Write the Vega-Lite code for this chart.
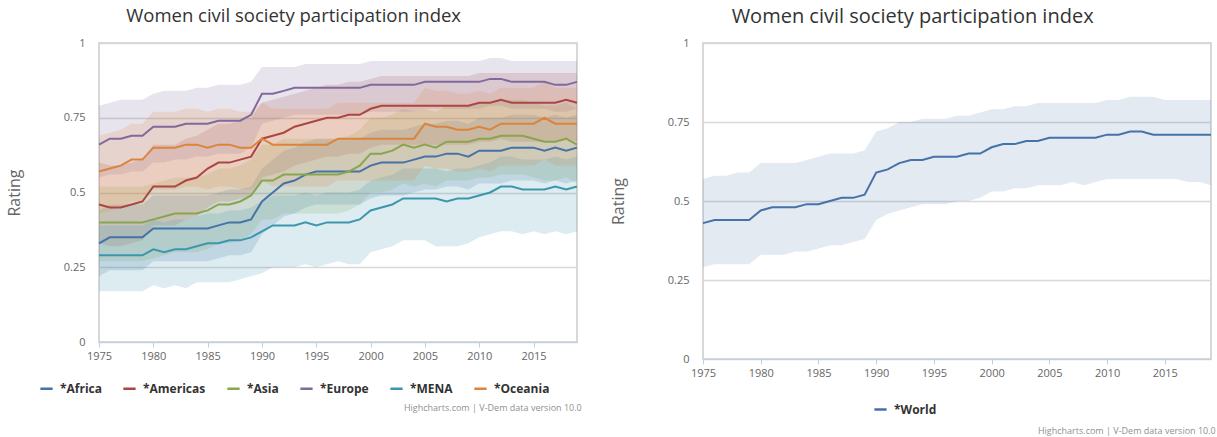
{
"$schema": "https://vega.github.io/schema/vega-lite/v6.json",
"background": "white",
"padding": 5,
"spacing": 27,
"config": {
  "font": "Open Sans",
  "view": {"stroke": "#cccccc", "strokeWidth": 1.5},
  "concat": {"spacing": 27},
  "legend": {"symbolType": "stroke", "symbolStrokeWidth": 2.5, "symbolSize": 150, "symbolOpacity": 1, "labelFont": "Open Sans", "labelFontSize": 12, "labelFontWeight": "bold", "labelColor": "#333333", "columnPadding": 16, "labelOffset": 6, "padding": 0}
},
"resolve": {"scale": {"color": "independent"}, "legend": {"color": "independent"}},
"datasets": {
"regions": [
{"region":"*Africa","year":1975,"value":0.33,"low":0.22,"high":0.44},
{"region":"*Africa","year":1976,"value":0.35,"low":0.24,"high":0.46},
{"region":"*Africa","year":1977,"value":0.35,"low":0.24,"high":0.46},
{"region":"*Africa","year":1978,"value":0.35,"low":0.24,"high":0.46},
{"region":"*Africa","year":1979,"value":0.35,"low":0.24,"high":0.46},
{"region":"*Africa","year":1980,"value":0.38,"low":0.27,"high":0.49},
{"region":"*Africa","year":1981,"value":0.38,"low":0.27,"high":0.49},
{"region":"*Africa","year":1982,"value":0.38,"low":0.27,"high":0.49},
{"region":"*Africa","year":1983,"value":0.38,"low":0.27,"high":0.49},
{"region":"*Africa","year":1984,"value":0.38,"low":0.27,"high":0.49},
{"region":"*Africa","year":1985,"value":0.38,"low":0.27,"high":0.49},
{"region":"*Africa","year":1986,"value":0.39,"low":0.28,"high":0.50},
{"region":"*Africa","year":1987,"value":0.40,"low":0.29,"high":0.51},
{"region":"*Africa","year":1988,"value":0.40,"low":0.29,"high":0.51},
{"region":"*Africa","year":1989,"value":0.41,"low":0.30,"high":0.52},
{"region":"*Africa","year":1990,"value":0.47,"low":0.36,"high":0.58},
{"region":"*Africa","year":1991,"value":0.50,"low":0.39,"high":0.61},
{"region":"*Africa","year":1992,"value":0.53,"low":0.42,"high":0.64},
{"region":"*Africa","year":1993,"value":0.54,"low":0.43,"high":0.65},
{"region":"*Africa","year":1994,"value":0.56,"low":0.45,"high":0.67},
{"region":"*Africa","year":1995,"value":0.57,"low":0.46,"high":0.68},
{"region":"*Africa","year":1996,"value":0.57,"low":0.46,"high":0.68},
{"region":"*Africa","year":1997,"value":0.57,"low":0.46,"high":0.68},
{"region":"*Africa","year":1998,"value":0.57,"low":0.46,"high":0.68},
{"region":"*Africa","year":1999,"value":0.57,"low":0.46,"high":0.68},
{"region":"*Africa","year":2000,"value":0.59,"low":0.48,"high":0.70},
{"region":"*Africa","year":2001,"value":0.60,"low":0.49,"high":0.71},
{"region":"*Africa","year":2002,"value":0.60,"low":0.49,"high":0.71},
{"region":"*Africa","year":2003,"value":0.60,"low":0.49,"high":0.71},
{"region":"*Africa","year":2004,"value":0.61,"low":0.50,"high":0.72},
{"region":"*Africa","year":2005,"value":0.62,"low":0.51,"high":0.73},
{"region":"*Africa","year":2006,"value":0.62,"low":0.51,"high":0.73},
{"region":"*Africa","year":2007,"value":0.63,"low":0.52,"high":0.74},
{"region":"*Africa","year":2008,"value":0.63,"low":0.52,"high":0.74},
{"region":"*Africa","year":2009,"value":0.62,"low":0.51,"high":0.73},
{"region":"*Africa","year":2010,"value":0.64,"low":0.53,"high":0.75},
{"region":"*Africa","year":2011,"value":0.64,"low":0.53,"high":0.75},
{"region":"*Africa","year":2012,"value":0.64,"low":0.53,"high":0.75},
{"region":"*Africa","year":2013,"value":0.65,"low":0.54,"high":0.76},
{"region":"*Africa","year":2014,"value":0.65,"low":0.54,"high":0.76},
{"region":"*Africa","year":2015,"value":0.65,"low":0.54,"high":0.76},
{"region":"*Africa","year":2016,"value":0.64,"low":0.53,"high":0.75},
{"region":"*Africa","year":2017,"value":0.65,"low":0.54,"high":0.76},
{"region":"*Africa","year":2018,"value":0.64,"low":0.53,"high":0.75},
{"region":"*Africa","year":2019,"value":0.65,"low":0.54,"high":0.76},
{"region":"*Americas","year":1975,"value":0.46,"low":0.33,"high":0.60},
{"region":"*Americas","year":1976,"value":0.45,"low":0.32,"high":0.59},
{"region":"*Americas","year":1977,"value":0.45,"low":0.32,"high":0.59},
{"region":"*Americas","year":1978,"value":0.46,"low":0.33,"high":0.60},
{"region":"*Americas","year":1979,"value":0.47,"low":0.34,"high":0.61},
{"region":"*Americas","year":1980,"value":0.52,"low":0.39,"high":0.66},
{"region":"*Americas","year":1981,"value":0.52,"low":0.39,"high":0.66},
{"region":"*Americas","year":1982,"value":0.52,"low":0.39,"high":0.66},
{"region":"*Americas","year":1983,"value":0.54,"low":0.41,"high":0.68},
{"region":"*Americas","year":1984,"value":0.55,"low":0.42,"high":0.69},
{"region":"*Americas","year":1985,"value":0.58,"low":0.45,"high":0.71},
{"region":"*Americas","year":1986,"value":0.60,"low":0.47,"high":0.73},
{"region":"*Americas","year":1987,"value":0.60,"low":0.47,"high":0.73},
{"region":"*Americas","year":1988,"value":0.61,"low":0.48,"high":0.74},
{"region":"*Americas","year":1989,"value":0.62,"low":0.49,"high":0.75},
{"region":"*Americas","year":1990,"value":0.68,"low":0.55,"high":0.80},
{"region":"*Americas","year":1991,"value":0.69,"low":0.56,"high":0.81},
{"region":"*Americas","year":1992,"value":0.70,"low":0.57,"high":0.82},
{"region":"*Americas","year":1993,"value":0.72,"low":0.59,"high":0.83},
{"region":"*Americas","year":1994,"value":0.73,"low":0.60,"high":0.84},
{"region":"*Americas","year":1995,"value":0.74,"low":0.61,"high":0.85},
{"region":"*Americas","year":1996,"value":0.75,"low":0.62,"high":0.86},
{"region":"*Americas","year":1997,"value":0.75,"low":0.62,"high":0.86},
{"region":"*Americas","year":1998,"value":0.76,"low":0.63,"high":0.87},
{"region":"*Americas","year":1999,"value":0.76,"low":0.63,"high":0.87},
{"region":"*Americas","year":2000,"value":0.78,"low":0.65,"high":0.88},
{"region":"*Americas","year":2001,"value":0.79,"low":0.66,"high":0.89},
{"region":"*Americas","year":2002,"value":0.79,"low":0.66,"high":0.89},
{"region":"*Americas","year":2003,"value":0.79,"low":0.66,"high":0.89},
{"region":"*Americas","year":2004,"value":0.79,"low":0.66,"high":0.89},
{"region":"*Americas","year":2005,"value":0.79,"low":0.66,"high":0.89},
{"region":"*Americas","year":2006,"value":0.79,"low":0.66,"high":0.89},
{"region":"*Americas","year":2007,"value":0.79,"low":0.66,"high":0.89},
{"region":"*Americas","year":2008,"value":0.79,"low":0.66,"high":0.89},
{"region":"*Americas","year":2009,"value":0.79,"low":0.66,"high":0.89},
{"region":"*Americas","year":2010,"value":0.80,"low":0.67,"high":0.90},
{"region":"*Americas","year":2011,"value":0.80,"low":0.67,"high":0.90},
{"region":"*Americas","year":2012,"value":0.81,"low":0.68,"high":0.90},
{"region":"*Americas","year":2013,"value":0.80,"low":0.67,"high":0.90},
{"region":"*Americas","year":2014,"value":0.80,"low":0.67,"high":0.90},
{"region":"*Americas","year":2015,"value":0.80,"low":0.67,"high":0.90},
{"region":"*Americas","year":2016,"value":0.80,"low":0.67,"high":0.90},
{"region":"*Americas","year":2017,"value":0.80,"low":0.67,"high":0.90},
{"region":"*Americas","year":2018,"value":0.81,"low":0.68,"high":0.90},
{"region":"*Americas","year":2019,"value":0.80,"low":0.67,"high":0.90},
{"region":"*Asia","year":1975,"value":0.40,"low":0.27,"high":0.52},
{"region":"*Asia","year":1976,"value":0.40,"low":0.27,"high":0.52},
{"region":"*Asia","year":1977,"value":0.40,"low":0.27,"high":0.52},
{"region":"*Asia","year":1978,"value":0.40,"low":0.27,"high":0.52},
{"region":"*Asia","year":1979,"value":0.40,"low":0.27,"high":0.52},
{"region":"*Asia","year":1980,"value":0.41,"low":0.28,"high":0.53},
{"region":"*Asia","year":1981,"value":0.42,"low":0.29,"high":0.54},
{"region":"*Asia","year":1982,"value":0.43,"low":0.30,"high":0.55},
{"region":"*Asia","year":1983,"value":0.43,"low":0.30,"high":0.55},
{"region":"*Asia","year":1984,"value":0.43,"low":0.30,"high":0.55},
{"region":"*Asia","year":1985,"value":0.44,"low":0.31,"high":0.56},
{"region":"*Asia","year":1986,"value":0.46,"low":0.33,"high":0.58},
{"region":"*Asia","year":1987,"value":0.46,"low":0.33,"high":0.58},
{"region":"*Asia","year":1988,"value":0.47,"low":0.34,"high":0.59},
{"region":"*Asia","year":1989,"value":0.49,"low":0.36,"high":0.61},
{"region":"*Asia","year":1990,"value":0.54,"low":0.41,"high":0.66},
{"region":"*Asia","year":1991,"value":0.54,"low":0.41,"high":0.66},
{"region":"*Asia","year":1992,"value":0.56,"low":0.43,"high":0.68},
{"region":"*Asia","year":1993,"value":0.56,"low":0.43,"high":0.68},
{"region":"*Asia","year":1994,"value":0.56,"low":0.43,"high":0.68},
{"region":"*Asia","year":1995,"value":0.56,"low":0.43,"high":0.68},
{"region":"*Asia","year":1996,"value":0.56,"low":0.43,"high":0.68},
{"region":"*Asia","year":1997,"value":0.56,"low":0.43,"high":0.68},
{"region":"*Asia","year":1998,"value":0.57,"low":0.44,"high":0.69},
{"region":"*Asia","year":1999,"value":0.59,"low":0.46,"high":0.71},
{"region":"*Asia","year":2000,"value":0.63,"low":0.50,"high":0.75},
{"region":"*Asia","year":2001,"value":0.63,"low":0.50,"high":0.75},
{"region":"*Asia","year":2002,"value":0.64,"low":0.51,"high":0.76},
{"region":"*Asia","year":2003,"value":0.66,"low":0.53,"high":0.78},
{"region":"*Asia","year":2004,"value":0.65,"low":0.52,"high":0.77},
{"region":"*Asia","year":2005,"value":0.66,"low":0.53,"high":0.78},
{"region":"*Asia","year":2006,"value":0.65,"low":0.52,"high":0.77},
{"region":"*Asia","year":2007,"value":0.67,"low":0.54,"high":0.79},
{"region":"*Asia","year":2008,"value":0.67,"low":0.54,"high":0.79},
{"region":"*Asia","year":2009,"value":0.67,"low":0.54,"high":0.79},
{"region":"*Asia","year":2010,"value":0.68,"low":0.55,"high":0.80},
{"region":"*Asia","year":2011,"value":0.68,"low":0.55,"high":0.80},
{"region":"*Asia","year":2012,"value":0.69,"low":0.56,"high":0.81},
{"region":"*Asia","year":2013,"value":0.69,"low":0.56,"high":0.81},
{"region":"*Asia","year":2014,"value":0.69,"low":0.56,"high":0.81},
{"region":"*Asia","year":2015,"value":0.68,"low":0.55,"high":0.80},
{"region":"*Asia","year":2016,"value":0.67,"low":0.54,"high":0.79},
{"region":"*Asia","year":2017,"value":0.67,"low":0.54,"high":0.79},
{"region":"*Asia","year":2018,"value":0.68,"low":0.55,"high":0.80},
{"region":"*Asia","year":2019,"value":0.66,"low":0.53,"high":0.78},
{"region":"*Europe","year":1975,"value":0.66,"low":0.55,"high":0.79},
{"region":"*Europe","year":1976,"value":0.68,"low":0.56,"high":0.80},
{"region":"*Europe","year":1977,"value":0.68,"low":0.56,"high":0.81},
{"region":"*Europe","year":1978,"value":0.69,"low":0.57,"high":0.81},
{"region":"*Europe","year":1979,"value":0.69,"low":0.57,"high":0.81},
{"region":"*Europe","year":1980,"value":0.72,"low":0.60,"high":0.83},
{"region":"*Europe","year":1981,"value":0.72,"low":0.60,"high":0.84},
{"region":"*Europe","year":1982,"value":0.72,"low":0.61,"high":0.84},
{"region":"*Europe","year":1983,"value":0.73,"low":0.61,"high":0.84},
{"region":"*Europe","year":1984,"value":0.73,"low":0.62,"high":0.85},
{"region":"*Europe","year":1985,"value":0.73,"low":0.62,"high":0.85},
{"region":"*Europe","year":1986,"value":0.74,"low":0.63,"high":0.86},
{"region":"*Europe","year":1987,"value":0.74,"low":0.63,"high":0.86},
{"region":"*Europe","year":1988,"value":0.74,"low":0.63,"high":0.86},
{"region":"*Europe","year":1989,"value":0.76,"low":0.65,"high":0.87},
{"region":"*Europe","year":1990,"value":0.83,"low":0.73,"high":0.92},
{"region":"*Europe","year":1991,"value":0.83,"low":0.74,"high":0.92},
{"region":"*Europe","year":1992,"value":0.84,"low":0.75,"high":0.92},
{"region":"*Europe","year":1993,"value":0.85,"low":0.76,"high":0.92},
{"region":"*Europe","year":1994,"value":0.85,"low":0.76,"high":0.93},
{"region":"*Europe","year":1995,"value":0.85,"low":0.76,"high":0.93},
{"region":"*Europe","year":1996,"value":0.85,"low":0.76,"high":0.93},
{"region":"*Europe","year":1997,"value":0.85,"low":0.76,"high":0.93},
{"region":"*Europe","year":1998,"value":0.85,"low":0.76,"high":0.93},
{"region":"*Europe","year":1999,"value":0.85,"low":0.76,"high":0.93},
{"region":"*Europe","year":2000,"value":0.86,"low":0.77,"high":0.94},
{"region":"*Europe","year":2001,"value":0.86,"low":0.77,"high":0.94},
{"region":"*Europe","year":2002,"value":0.86,"low":0.77,"high":0.94},
{"region":"*Europe","year":2003,"value":0.86,"low":0.77,"high":0.94},
{"region":"*Europe","year":2004,"value":0.86,"low":0.77,"high":0.94},
{"region":"*Europe","year":2005,"value":0.87,"low":0.78,"high":0.94},
{"region":"*Europe","year":2006,"value":0.87,"low":0.78,"high":0.94},
{"region":"*Europe","year":2007,"value":0.87,"low":0.78,"high":0.94},
{"region":"*Europe","year":2008,"value":0.87,"low":0.78,"high":0.94},
{"region":"*Europe","year":2009,"value":0.87,"low":0.78,"high":0.94},
{"region":"*Europe","year":2010,"value":0.87,"low":0.78,"high":0.94},
{"region":"*Europe","year":2011,"value":0.88,"low":0.79,"high":0.95},
{"region":"*Europe","year":2012,"value":0.88,"low":0.79,"high":0.95},
{"region":"*Europe","year":2013,"value":0.87,"low":0.78,"high":0.94},
{"region":"*Europe","year":2014,"value":0.87,"low":0.78,"high":0.94},
{"region":"*Europe","year":2015,"value":0.87,"low":0.78,"high":0.94},
{"region":"*Europe","year":2016,"value":0.87,"low":0.78,"high":0.94},
{"region":"*Europe","year":2017,"value":0.86,"low":0.77,"high":0.94},
{"region":"*Europe","year":2018,"value":0.86,"low":0.77,"high":0.94},
{"region":"*Europe","year":2019,"value":0.87,"low":0.78,"high":0.94},
{"region":"*MENA","year":1975,"value":0.29,"low":0.17,"high":0.39},
{"region":"*MENA","year":1976,"value":0.29,"low":0.17,"high":0.39},
{"region":"*MENA","year":1977,"value":0.29,"low":0.17,"high":0.39},
{"region":"*MENA","year":1978,"value":0.29,"low":0.17,"high":0.39},
{"region":"*MENA","year":1979,"value":0.29,"low":0.17,"high":0.39},
{"region":"*MENA","year":1980,"value":0.31,"low":0.19,"high":0.41},
{"region":"*MENA","year":1981,"value":0.30,"low":0.18,"high":0.40},
{"region":"*MENA","year":1982,"value":0.31,"low":0.19,"high":0.41},
{"region":"*MENA","year":1983,"value":0.31,"low":0.18,"high":0.41},
{"region":"*MENA","year":1984,"value":0.32,"low":0.20,"high":0.42},
{"region":"*MENA","year":1985,"value":0.33,"low":0.20,"high":0.43},
{"region":"*MENA","year":1986,"value":0.33,"low":0.20,"high":0.43},
{"region":"*MENA","year":1987,"value":0.34,"low":0.20,"high":0.44},
{"region":"*MENA","year":1988,"value":0.34,"low":0.21,"high":0.44},
{"region":"*MENA","year":1989,"value":0.35,"low":0.22,"high":0.45},
{"region":"*MENA","year":1990,"value":0.37,"low":0.23,"high":0.47},
{"region":"*MENA","year":1991,"value":0.39,"low":0.25,"high":0.49},
{"region":"*MENA","year":1992,"value":0.39,"low":0.25,"high":0.49},
{"region":"*MENA","year":1993,"value":0.39,"low":0.25,"high":0.49},
{"region":"*MENA","year":1994,"value":0.40,"low":0.26,"high":0.50},
{"region":"*MENA","year":1995,"value":0.39,"low":0.25,"high":0.49},
{"region":"*MENA","year":1996,"value":0.40,"low":0.26,"high":0.50},
{"region":"*MENA","year":1997,"value":0.40,"low":0.27,"high":0.50},
{"region":"*MENA","year":1998,"value":0.40,"low":0.26,"high":0.50},
{"region":"*MENA","year":1999,"value":0.41,"low":0.26,"high":0.51},
{"region":"*MENA","year":2000,"value":0.44,"low":0.30,"high":0.54},
{"region":"*MENA","year":2001,"value":0.45,"low":0.31,"high":0.55},
{"region":"*MENA","year":2002,"value":0.46,"low":0.32,"high":0.56},
{"region":"*MENA","year":2003,"value":0.48,"low":0.34,"high":0.58},
{"region":"*MENA","year":2004,"value":0.48,"low":0.34,"high":0.58},
{"region":"*MENA","year":2005,"value":0.48,"low":0.34,"high":0.58},
{"region":"*MENA","year":2006,"value":0.48,"low":0.32,"high":0.58},
{"region":"*MENA","year":2007,"value":0.47,"low":0.32,"high":0.57},
{"region":"*MENA","year":2008,"value":0.48,"low":0.32,"high":0.58},
{"region":"*MENA","year":2009,"value":0.48,"low":0.33,"high":0.58},
{"region":"*MENA","year":2010,"value":0.49,"low":0.35,"high":0.59},
{"region":"*MENA","year":2011,"value":0.50,"low":0.36,"high":0.60},
{"region":"*MENA","year":2012,"value":0.52,"low":0.37,"high":0.62},
{"region":"*MENA","year":2013,"value":0.52,"low":0.37,"high":0.62},
{"region":"*MENA","year":2014,"value":0.51,"low":0.36,"high":0.61},
{"region":"*MENA","year":2015,"value":0.51,"low":0.37,"high":0.61},
{"region":"*MENA","year":2016,"value":0.51,"low":0.36,"high":0.61},
{"region":"*MENA","year":2017,"value":0.52,"low":0.37,"high":0.62},
{"region":"*MENA","year":2018,"value":0.51,"low":0.36,"high":0.61},
{"region":"*MENA","year":2019,"value":0.52,"low":0.37,"high":0.62},
{"region":"*Oceania","year":1975,"value":0.57,"low":0.43,"high":0.69},
{"region":"*Oceania","year":1976,"value":0.58,"low":0.44,"high":0.70},
{"region":"*Oceania","year":1977,"value":0.59,"low":0.45,"high":0.71},
{"region":"*Oceania","year":1978,"value":0.61,"low":0.47,"high":0.73},
{"region":"*Oceania","year":1979,"value":0.61,"low":0.47,"high":0.73},
{"region":"*Oceania","year":1980,"value":0.65,"low":0.51,"high":0.77},
{"region":"*Oceania","year":1981,"value":0.65,"low":0.51,"high":0.77},
{"region":"*Oceania","year":1982,"value":0.65,"low":0.51,"high":0.77},
{"region":"*Oceania","year":1983,"value":0.66,"low":0.52,"high":0.78},
{"region":"*Oceania","year":1984,"value":0.66,"low":0.52,"high":0.78},
{"region":"*Oceania","year":1985,"value":0.65,"low":0.51,"high":0.77},
{"region":"*Oceania","year":1986,"value":0.66,"low":0.52,"high":0.78},
{"region":"*Oceania","year":1987,"value":0.66,"low":0.52,"high":0.78},
{"region":"*Oceania","year":1988,"value":0.65,"low":0.51,"high":0.77},
{"region":"*Oceania","year":1989,"value":0.65,"low":0.51,"high":0.77},
{"region":"*Oceania","year":1990,"value":0.68,"low":0.54,"high":0.80},
{"region":"*Oceania","year":1991,"value":0.66,"low":0.52,"high":0.78},
{"region":"*Oceania","year":1992,"value":0.66,"low":0.52,"high":0.78},
{"region":"*Oceania","year":1993,"value":0.66,"low":0.52,"high":0.78},
{"region":"*Oceania","year":1994,"value":0.66,"low":0.52,"high":0.78},
{"region":"*Oceania","year":1995,"value":0.66,"low":0.52,"high":0.78},
{"region":"*Oceania","year":1996,"value":0.66,"low":0.52,"high":0.78},
{"region":"*Oceania","year":1997,"value":0.68,"low":0.54,"high":0.80},
{"region":"*Oceania","year":1998,"value":0.68,"low":0.54,"high":0.80},
{"region":"*Oceania","year":1999,"value":0.68,"low":0.54,"high":0.80},
{"region":"*Oceania","year":2000,"value":0.68,"low":0.54,"high":0.80},
{"region":"*Oceania","year":2001,"value":0.68,"low":0.54,"high":0.80},
{"region":"*Oceania","year":2002,"value":0.68,"low":0.54,"high":0.80},
{"region":"*Oceania","year":2003,"value":0.68,"low":0.54,"high":0.80},
{"region":"*Oceania","year":2004,"value":0.68,"low":0.54,"high":0.80},
{"region":"*Oceania","year":2005,"value":0.73,"low":0.59,"high":0.85},
{"region":"*Oceania","year":2006,"value":0.72,"low":0.58,"high":0.84},
{"region":"*Oceania","year":2007,"value":0.72,"low":0.58,"high":0.84},
{"region":"*Oceania","year":2008,"value":0.71,"low":0.57,"high":0.83},
{"region":"*Oceania","year":2009,"value":0.71,"low":0.57,"high":0.83},
{"region":"*Oceania","year":2010,"value":0.72,"low":0.58,"high":0.84},
{"region":"*Oceania","year":2011,"value":0.71,"low":0.57,"high":0.83},
{"region":"*Oceania","year":2012,"value":0.73,"low":0.59,"high":0.85},
{"region":"*Oceania","year":2013,"value":0.73,"low":0.59,"high":0.85},
{"region":"*Oceania","year":2014,"value":0.73,"low":0.59,"high":0.85},
{"region":"*Oceania","year":2015,"value":0.73,"low":0.59,"high":0.85},
{"region":"*Oceania","year":2016,"value":0.75,"low":0.61,"high":0.87},
{"region":"*Oceania","year":2017,"value":0.73,"low":0.59,"high":0.85},
{"region":"*Oceania","year":2018,"value":0.73,"low":0.59,"high":0.85},
{"region":"*Oceania","year":2019,"value":0.73,"low":0.59,"high":0.85}
],
"world": [
{"region":"*World","year":1975,"value":0.43,"low":0.29,"high":0.57},
{"region":"*World","year":1976,"value":0.44,"low":0.30,"high":0.58},
{"region":"*World","year":1977,"value":0.44,"low":0.30,"high":0.58},
{"region":"*World","year":1978,"value":0.44,"low":0.30,"high":0.59},
{"region":"*World","year":1979,"value":0.44,"low":0.30,"high":0.59},
{"region":"*World","year":1980,"value":0.47,"low":0.33,"high":0.62},
{"region":"*World","year":1981,"value":0.48,"low":0.33,"high":0.62},
{"region":"*World","year":1982,"value":0.48,"low":0.33,"high":0.62},
{"region":"*World","year":1983,"value":0.48,"low":0.34,"high":0.62},
{"region":"*World","year":1984,"value":0.49,"low":0.34,"high":0.63},
{"region":"*World","year":1985,"value":0.49,"low":0.35,"high":0.64},
{"region":"*World","year":1986,"value":0.50,"low":0.36,"high":0.65},
{"region":"*World","year":1987,"value":0.51,"low":0.36,"high":0.65},
{"region":"*World","year":1988,"value":0.51,"low":0.37,"high":0.65},
{"region":"*World","year":1989,"value":0.52,"low":0.38,"high":0.66},
{"region":"*World","year":1990,"value":0.59,"low":0.44,"high":0.72},
{"region":"*World","year":1991,"value":0.60,"low":0.46,"high":0.73},
{"region":"*World","year":1992,"value":0.62,"low":0.47,"high":0.75},
{"region":"*World","year":1993,"value":0.63,"low":0.48,"high":0.75},
{"region":"*World","year":1994,"value":0.63,"low":0.49,"high":0.76},
{"region":"*World","year":1995,"value":0.64,"low":0.49,"high":0.76},
{"region":"*World","year":1996,"value":0.64,"low":0.49,"high":0.76},
{"region":"*World","year":1997,"value":0.64,"low":0.50,"high":0.77},
{"region":"*World","year":1998,"value":0.65,"low":0.50,"high":0.77},
{"region":"*World","year":1999,"value":0.65,"low":0.51,"high":0.78},
{"region":"*World","year":2000,"value":0.67,"low":0.53,"high":0.79},
{"region":"*World","year":2001,"value":0.68,"low":0.53,"high":0.79},
{"region":"*World","year":2002,"value":0.68,"low":0.54,"high":0.80},
{"region":"*World","year":2003,"value":0.69,"low":0.54,"high":0.80},
{"region":"*World","year":2004,"value":0.69,"low":0.55,"high":0.81},
{"region":"*World","year":2005,"value":0.70,"low":0.55,"high":0.81},
{"region":"*World","year":2006,"value":0.70,"low":0.55,"high":0.81},
{"region":"*World","year":2007,"value":0.70,"low":0.56,"high":0.81},
{"region":"*World","year":2008,"value":0.70,"low":0.55,"high":0.81},
{"region":"*World","year":2009,"value":0.70,"low":0.56,"high":0.81},
{"region":"*World","year":2010,"value":0.71,"low":0.57,"high":0.82},
{"region":"*World","year":2011,"value":0.71,"low":0.57,"high":0.82},
{"region":"*World","year":2012,"value":0.72,"low":0.57,"high":0.83},
{"region":"*World","year":2013,"value":0.72,"low":0.57,"high":0.83},
{"region":"*World","year":2014,"value":0.71,"low":0.57,"high":0.83},
{"region":"*World","year":2015,"value":0.71,"low":0.57,"high":0.82},
{"region":"*World","year":2016,"value":0.71,"low":0.57,"high":0.82},
{"region":"*World","year":2017,"value":0.71,"low":0.56,"high":0.82},
{"region":"*World","year":2018,"value":0.71,"low":0.56,"high":0.82},
{"region":"*World","year":2019,"value":0.71,"low":0.55,"high":0.82}
]
},
"hconcat": [
{
  "title": {"text": "Highcharts.com | V-Dem data version 10.0", "orient": "bottom", "anchor": "end", "fontSize": 9, "fontWeight": "normal", "color": "#909090", "offset": 8},
  "resolve": {"scale": {"color": "independent"}, "legend": {"color": "independent"}},
  "vconcat": [
  {
    "width": 478, "height": 299,
    "title": {"text": "Women civil society participation index", "fontSize": 18.5, "fontWeight": "normal", "color": "#333333", "offset": 12, "frame": "bounds", "anchor": "middle"},
    "data": {"name": "regions"},
    "encoding": {
      "x": {"field": "year", "type": "quantitative", "scale": {"domain": [1975, 2019], "nice": false, "zero": false},
        "axis": {"title": null, "values": [1975,1980,1985,1990,1995,2000,2005,2010,2015], "format": "d", "grid": false, "labelFontSize": 11, "labelColor": "#666666", "tickColor": "#C0D0E0", "tickSize": 5, "domainColor": "#C0D0E0", "labelPadding": 3, "labelFlush": false}},
      "color": {"field": "region", "type": "nominal",
        "scale": {"domain": ["*Africa","*Americas","*Asia","*Europe","*MENA","*Oceania"], "range": ["#4572A7","#AA4643","#89A54E","#80699B","#3D96AE","#DB843D"]},
        "legend": {"title": null, "orient": "none", "direction": "horizontal", "legendX": -60, "legendY": 338}}
    },
    "layer": [
      {"mark": {"type": "area", "fillOpacity": 0.18, "interpolate": "linear"},
       "encoding": {
         "y": {"field": "low", "type": "quantitative", "scale": {"domain": [0, 1], "nice": false},
           "axis": {"title": "Rating", "values": [0,0.25,0.5,0.75,1], "format": ".2~f", "grid": true, "gridColor": "#d8d8d8", "gridWidth": 1.5, "domain": false, "ticks": false, "labelFontSize": 11, "labelColor": "#666666", "labelPadding": 14, "titleFontSize": 16, "titleFontWeight": "normal", "titleColor": "#666666", "titlePadding": 41}},
         "y2": {"field": "high"}
       }},
      {"mark": {"type": "line", "strokeWidth": 2, "interpolate": "linear"},
       "encoding": {
         "y": {"field": "value", "type": "quantitative", "title": "Rating"}
       }}
    ]
  }
  ]
},
{
  "title": {"text": "Highcharts.com | V-Dem data version 10.0", "orient": "bottom", "anchor": "end", "fontSize": 9, "fontWeight": "normal", "color": "#909090", "offset": 10},
  "resolve": {"scale": {"color": "independent"}, "legend": {"color": "independent"}},
  "vconcat": [
  {
    "width": 508, "height": 316,
    "title": {"text": "Women civil society participation index", "fontSize": 20, "fontWeight": "normal", "color": "#333333", "offset": 10, "frame": "bounds", "anchor": "middle"},
    "data": {"name": "world"},
    "encoding": {
      "x": {"field": "year", "type": "quantitative", "scale": {"domain": [1975, 2019], "nice": false, "zero": false},
        "axis": {"title": null, "values": [1975,1980,1985,1990,1995,2000,2005,2010,2015], "format": "d", "grid": false, "labelFontSize": 11, "labelColor": "#666666", "tickColor": "#C0D0E0", "tickSize": 5, "domainColor": "#C0D0E0", "labelPadding": 3, "labelFlush": false}},
      "color": {"field": "region", "type": "nominal",
        "scale": {"domain": ["*World"], "range": ["#4572A7"]},
        "legend": {"title": null, "orient": "none", "direction": "horizontal", "legendX": 170, "legendY": 359}}
    },
    "layer": [
      {"mark": {"type": "area", "fillOpacity": 0.15, "interpolate": "linear"},
       "encoding": {
         "y": {"field": "low", "type": "quantitative", "scale": {"domain": [0, 1], "nice": false},
           "axis": {"title": "Rating", "values": [0,0.25,0.5,0.75,1], "format": ".2~f", "grid": true, "gridColor": "#d8d8d8", "gridWidth": 1.5, "domain": false, "ticks": false, "labelFontSize": 11, "labelColor": "#666666", "labelPadding": 14, "titleFontSize": 16, "titleFontWeight": "normal", "titleColor": "#666666", "titlePadding": 41}},
         "y2": {"field": "high"}
       }},
      {"mark": {"type": "line", "strokeWidth": 2, "interpolate": "linear"},
       "encoding": {
         "y": {"field": "value", "type": "quantitative", "title": "Rating"}
       }}
    ]
  }
  ]
}
]
}
